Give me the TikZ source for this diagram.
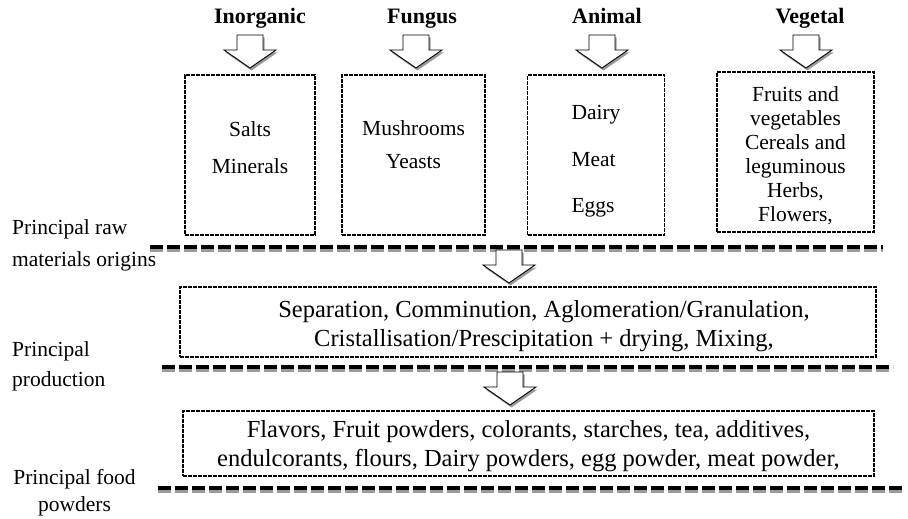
\documentclass[tikz,border=0pt]{standalone}
\usepackage{fontspec}
\setmainfont{Liberation Serif}
\usetikzlibrary{positioning, calc}
\definecolor{shadowgray}{HTML}{9A9A9A}

% hollow block arrow pointing down, #1 = top centre of the shaft
\newcommand{\blockdown}[1]{%
  \fill[shadowgray] ($(#1)+(1.5,2.5)$) ++(-13,0) -- ++(26,0) -- ++(0,15) -- ++(13,0)
    -- ++(-26,18) -- ++(-26,-18) -- ++(13,0) -- cycle;
  \draw[blockarrow] (#1) ++(-13,0) -- ++(26,0) -- ++(0,15) -- ++(13,0)
    -- ++(-26,18) -- ++(-26,-18) -- ++(13,0) -- cycle;
}
% strut that moves a node's text up (depth) or down (height)
\newcommand{\lift}[1]{\rule[-#1]{0pt}{#1}}
\newcommand{\drop}[1]{\rule{0pt}{#1}}

\begin{document}
\begin{tikzpicture}[x=1pt, y=-1pt,
    head/.style={font=\fontsize{22}{26}\selectfont\bfseries, inner sep=0pt, anchor=base},
    srcbox/.style={draw, line width=1.5pt, dash pattern=on 4pt off 1pt,
      minimum width=#1, minimum height=160pt, align=center, inner sep=0pt,
      font=\fontsize{21.5}{24}\selectfont},
    widebox/.style={draw, line width=1.5pt, dash pattern=on 4pt off 1pt,
      align=center, inner sep=0pt, font=\fontsize{24.5}{29}\selectfont},
    side/.style={inner sep=0pt},
    blockarrow/.style={draw, fill=white, line width=0.9pt, line join=miter},
    sepline/.style={line width=4.5pt, dash pattern=on 13pt off 4pt},
    sepshadow/.style={shadowgray, line width=3pt, dash pattern=on 13pt off 4pt}
]
    \useasboundingbox (0,0) rectangle (908,519);

    % origins
    \node[head] (inorg) at (260,24) {Inorganic};
    \node[head] (fungus) at (422,24) {Fungus};
    \node[head] (animal) at (607,24) {Animal};
    \node[head] (vegetal) at (810,24) {Vegetal};

    \coordinate (arrinorg) at (250,35);
    \coordinate (arrfungus) at (416,35);
    \coordinate (arranimal) at (602,35);
    \coordinate (arrvegetal) at (806,35);
    \blockdown{arrinorg}
    \blockdown{arrfungus}
    \blockdown{arranimal}
    \blockdown{arrvegetal}

    \node[srcbox=130pt] (salts) at (250,155) {Salts\\[13pt]Minerals\lift{14pt}};
    \node[srcbox=143pt] (fungi) at (413.5,155) {Mushrooms\\[9pt]Yeasts\lift{20pt}};
    \node[srcbox=137pt, align=left] (meats) at (596,155) {\drop{27pt}Dairy\\[23pt]Meat\\[22pt]Eggs};
    \node[srcbox=157pt] (plants) at (795.5,152) {\drop{23pt}Fruits and\\vegetables\\Cereals and\\leguminous\\Herbs,\\Flowers,};

    \node[side, anchor=west, align=left, font=\fontsize{21.5}{32}\selectfont] (rawlbl) at (12,245)
      {Principal raw\\materials origins};
    \draw[sepshadow] (150,250) -- (883,250);
    \draw[sepline] (150,247) -- (883,247);

    % production
    \coordinate (arrprod) at (509,250);
    \blockdown{arrprod}
    \node[widebox, minimum width=696pt, minimum height=70pt] (proc) at (528,322)
      {\drop{25pt}\hspace*{32pt}Separation, Comminution, Aglomeration/Granulation,\\
       \hspace*{32pt}Cristallisation/Prescipitation + drying, Mixing,};
    \node[side, anchor=west, align=left, font=\fontsize{21.5}{30}\selectfont] (prodlbl) at (12,366)
      {Principal\\production};
    \draw[sepshadow] (162,370) -- (893,370);
    \draw[sepline] (162,367) -- (893,367);

    % powders
    \coordinate (arrpowd) at (510,372);
    \blockdown{arrpowd}
    \node[widebox, minimum width=691pt, minimum height=65pt] (powd) at (528.5,443.5)
      {\drop{23pt}Flavors, Fruit powders, colorants, starches, tea, additives,\\
       endulcorants, flours, Dairy powders, egg powder, meat powder,};
    \node[side, align=center, font=\fontsize{21.5}{27}\selectfont] (foodlbl) at (74.5,493)
      {Principal food\\powders};
    \draw[sepshadow] (158,491) -- (903,491);
    \draw[sepline] (158,488) -- (903,488);
\end{tikzpicture}
\end{document}
